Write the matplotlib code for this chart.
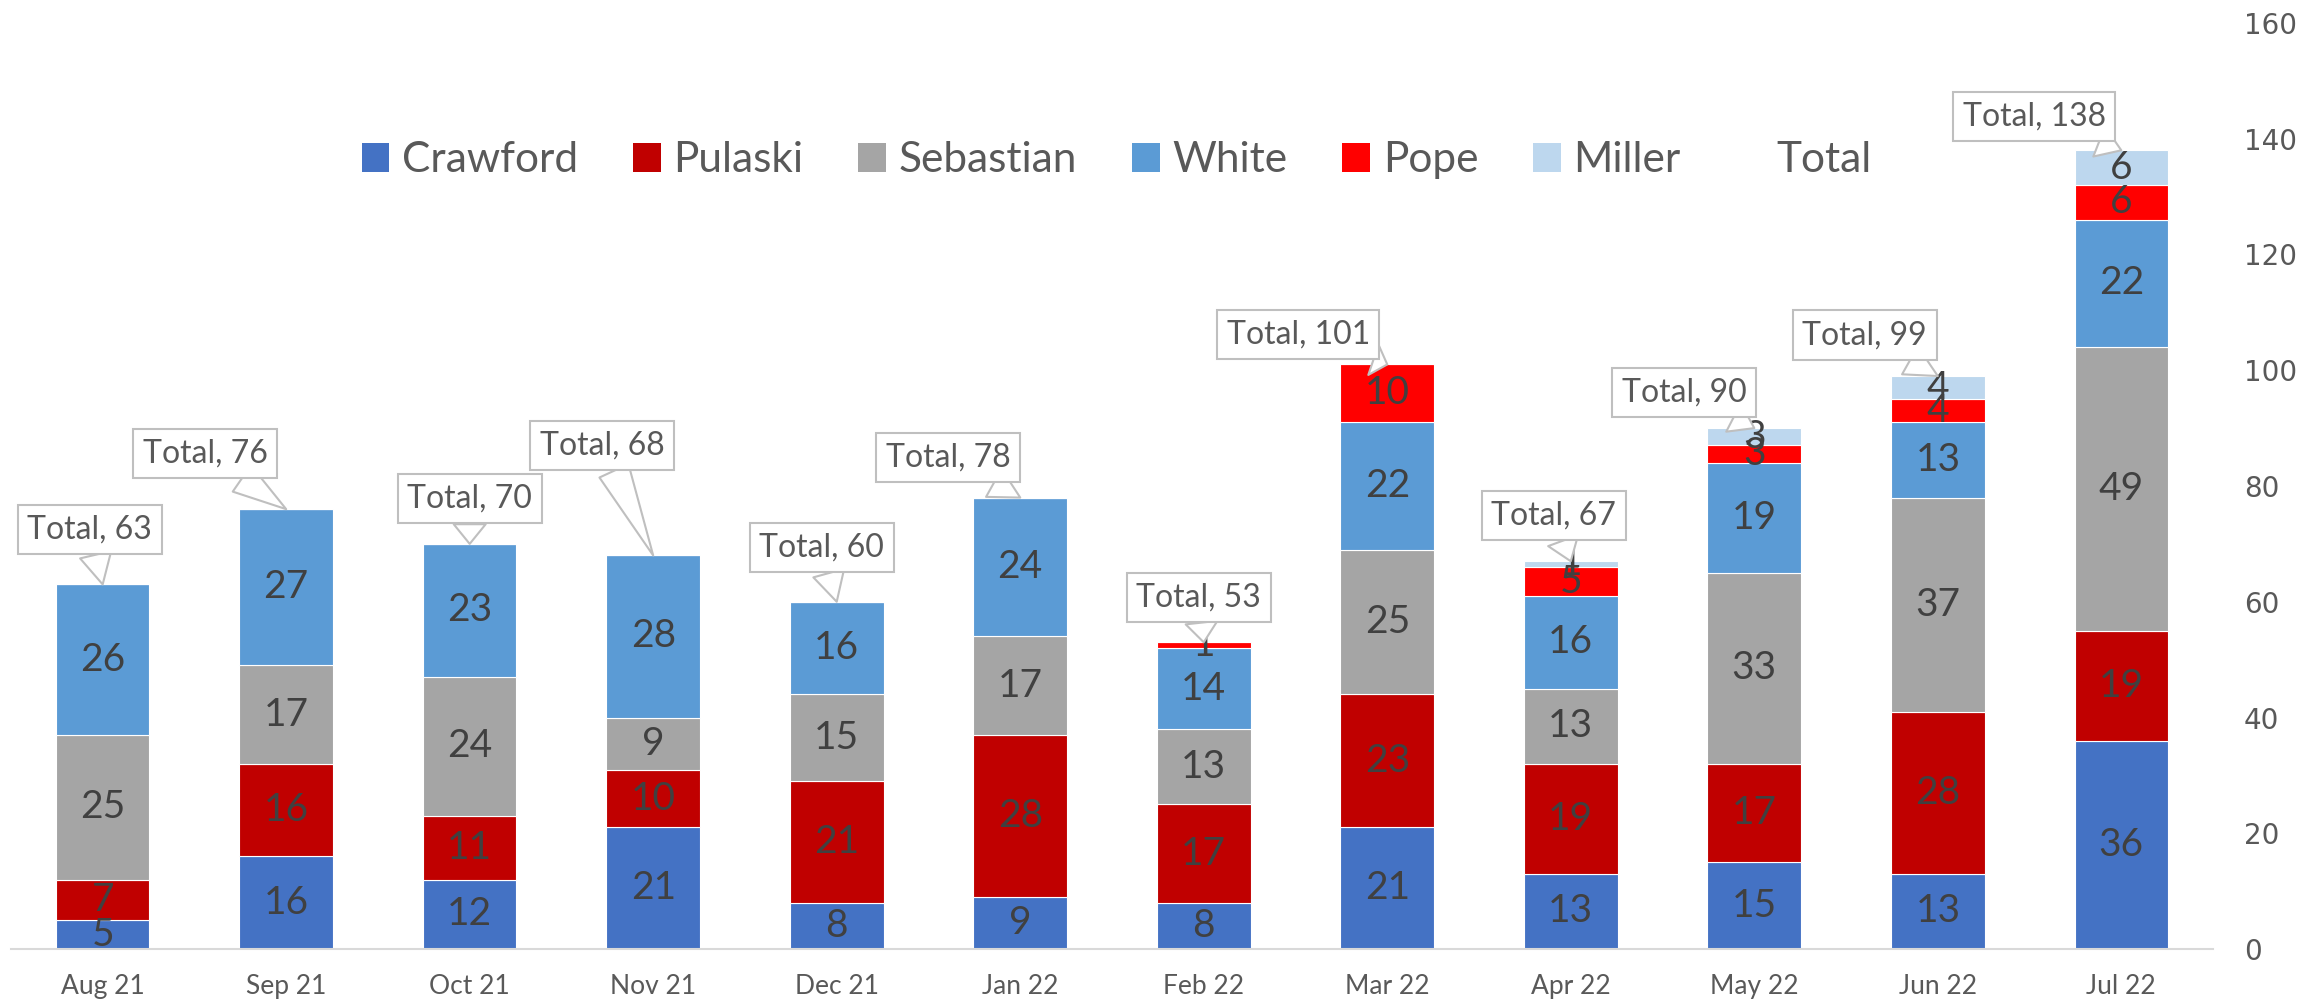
import matplotlib
matplotlib.use("Agg")
import matplotlib.pyplot as plt
import numpy as np
from matplotlib.patches import Patch

months = ["Aug 21", "Sep 21", "Oct 21", "Nov 21", "Dec 21", "Jan 22",
          "Feb 22", "Mar 22", "Apr 22", "May 22", "Jun 22", "Jul 22"]
crawford = [5, 16, 12, 21, 8, 9, 8, 21, 13, 15, 13, 36]
pulaski = [7, 16, 11, 10, 21, 28, 17, 23, 19, 17, 28, 19]
sebastian = [25, 17, 24, 9, 15, 17, 13, 25, 13, 33, 37, 49]
white = [26, 27, 23, 28, 16, 24, 14, 22, 16, 19, 13, 22]
pope = [0, 0, 0, 0, 0, 0, 1, 10, 5, 3, 4, 6]
miller = [0, 0, 0, 0, 0, 0, 0, 0, 1, 3, 4, 6]
totals = [63, 76, 70, 68, 60, 78, 53, 101, 67, 90, 99, 138]

series = [
    ("Crawford", crawford, "#4472C4"),
    ("Pulaski", pulaski, "#C00000"),
    ("Sebastian", sebastian, "#A5A5A5"),
    ("White", white, "#5B9BD5"),
    ("Pope", pope, "#FF0000"),
    ("Miller", miller, "#BDD7EE"),
]

# callout box offsets from the bar top, in pixels
callout_offsets = [(-13, 55), (-81, 56), (0, 45), (-51, 110), (-15, 54), (-72, 40),
                   (-5, 45), (-89, 30), (-17, 46), (-70, 36), (-73, 41), (-87, 34)]

plt.rcParams["font.family"] = ["Lato", "DejaVu Sans"]

fig = plt.figure(figsize=(23.21, 10.08), dpi=100)
ax = fig.add_axes([0.0047, 0.0585, 0.9488, 0.9187])

x = np.arange(len(months))
bottom = np.zeros(len(months))
handles = []
for name, vals, color in series:
    vals = np.array(vals, dtype=float)
    bars = ax.bar(x, vals, 0.51, bottom=bottom, color=color,
                  edgecolor="white", linewidth=0.8, label=name)
    labels = [str(int(v)) if v > 0 else "" for v in vals]
    ax.bar_label(bars, labels=labels, label_type="center",
                 fontsize=28, color="#404040")
    bottom += vals
    handles.append(Patch(facecolor=color, edgecolor="none", label=name))
handles.append(Patch(facecolor="none", edgecolor="none", label="Total"))

for i, t in enumerate(totals):
    dx, dy = callout_offsets[i]
    ax.annotate(f"Total, {t}", xy=(x[i], t), xytext=(dx, dy),
                textcoords="offset pixels", ha="center", va="center",
                fontsize=23, color="#595959",
                bbox=dict(boxstyle="square,pad=0.3", fc="white",
                          ec="#BFBFBF", lw=1.5),
                arrowprops=dict(arrowstyle="wedge,tail_width=1.0", fc="white",
                                ec="#BFBFBF", lw=1.5, shrinkA=0, shrinkB=0))

ax.set_xlim(-0.5, len(months) - 0.5)
ax.set_ylim(0, 160)
ax.set_xticks(x)
ax.set_xticklabels(months, fontsize=19, color="#595959")
ax.yaxis.tick_right()
ax.set_yticks(np.arange(0, 161, 20))
for lab in ax.get_yticklabels():
    lab.set_fontfamily("DejaVu Sans")
    lab.set_fontsize(20)
    lab.set_color("#595959")
    lab.set_horizontalalignment("left")
ax.tick_params(axis="x", length=0, pad=18)
ax.tick_params(axis="y", length=0, pad=22)
for side in ("top", "right", "left"):
    ax.spines[side].set_visible(False)
ax.spines["bottom"].set_color("#D9D9D9")
ax.spines["bottom"].set_linewidth(1.5)

fig.legend(handles=handles, loc="center", bbox_to_anchor=(0.481, 0.841),
           ncols=7, frameon=False, fontsize=30.5, labelcolor="#595959",
           handlelength=0.65, handleheight=0.65, handletextpad=0.3,
           columnspacing=1.3)

fig.savefig("out.png", dpi=100)
